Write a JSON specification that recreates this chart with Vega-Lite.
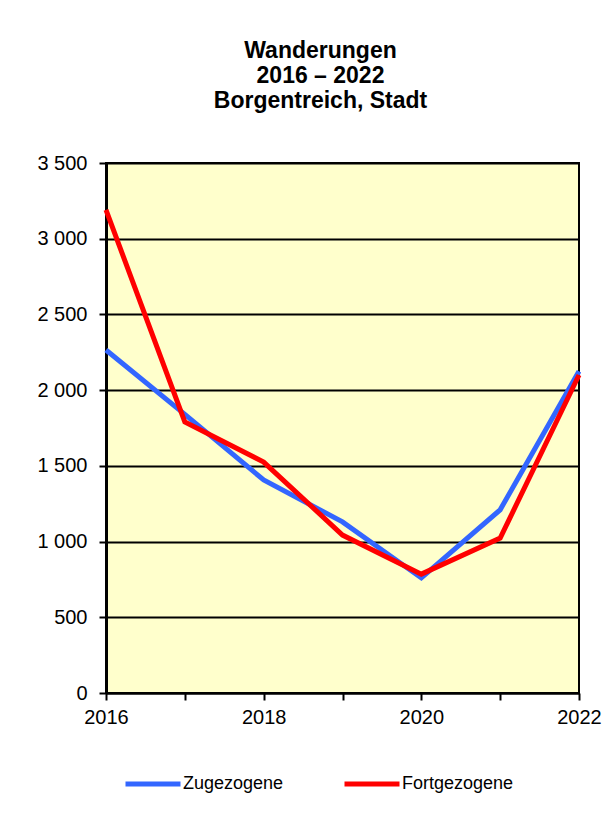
{
  "$schema": "https://vega.github.io/schema/vega-lite/v6.json",
  "width": 473,
  "height": 530,
  "autosize": {"type": "none"},
  "padding": {"left": 106, "top": 163, "right": 33, "bottom": 124},
  "background": "white",
  "title": {
    "text": ["Wanderungen", "2016 – 2022", "Borgentreich, Stadt"],
    "font": "Liberation Sans",
    "fontSize": 23,
    "fontWeight": "bold",
    "lineHeight": 25,
    "anchor": "middle",
    "dx": -22,
    "offset": 40,
    "color": "black"
  },
  "config": {
    "view": {"fill": "#FFFFCC", "stroke": "black", "strokeWidth": 2},
    "font": "Liberation Sans"
  },
  "data": {
    "values": [
      {"year": 2016, "series": "Zugezogene", "value": 2265},
      {"year": 2017, "series": "Zugezogene", "value": 1840},
      {"year": 2018, "series": "Zugezogene", "value": 1407},
      {"year": 2019, "series": "Zugezogene", "value": 1130},
      {"year": 2020, "series": "Zugezogene", "value": 760},
      {"year": 2021, "series": "Zugezogene", "value": 1210},
      {"year": 2022, "series": "Zugezogene", "value": 2125},
      {"year": 2016, "series": "Fortgezogene", "value": 3190},
      {"year": 2017, "series": "Fortgezogene", "value": 1790},
      {"year": 2018, "series": "Fortgezogene", "value": 1525},
      {"year": 2019, "series": "Fortgezogene", "value": 1043},
      {"year": 2020, "series": "Fortgezogene", "value": 785},
      {"year": 2021, "series": "Fortgezogene", "value": 1023},
      {"year": 2022, "series": "Fortgezogene", "value": 2100}
    ]
  },
  "mark": {"type": "line", "strokeWidth": 5, "strokeJoin": "miter"},
  "encoding": {
    "x": {
      "field": "year",
      "type": "quantitative",
      "scale": {"domain": [2016, 2022], "nice": false, "zero": false},
      "axis": {
        "title": null,
        "values": [2016, 2017, 2018, 2019, 2020, 2021, 2022],
        "format": "d",
        "labelExpr": "datum.value % 2 == 0 ? datum.label : ''",
        "grid": false,
        "domainColor": "black",
        "domainWidth": 2,
        "tickColor": "black",
        "tickWidth": 2,
        "tickSize": 7,
        "labelFontSize": 20,
        "labelColor": "black",
        "labelPadding": 7,
        "labelFlush": false
      }
    },
    "y": {
      "field": "value",
      "type": "quantitative",
      "scale": {"domain": [0, 3500], "nice": false},
      "axis": {
        "title": null,
        "values": [0, 500, 1000, 1500, 2000, 2500, 3000, 3500],
        "labelExpr": "replace(format(datum.value, ','), ',', ' ')",
        "grid": true,
        "gridColor": "black",
        "gridWidth": 2,
        "gridOpacity": 1,
        "domainColor": "black",
        "domainWidth": 3,
        "tickColor": "black",
        "tickWidth": 2,
        "tickSize": 7,
        "labelFontSize": 20,
        "labelColor": "black",
        "labelPadding": 12
      }
    },
    "color": {
      "field": "series",
      "type": "nominal",
      "scale": {"domain": ["Zugezogene", "Fortgezogene"], "range": ["#3366FF", "#FF0000"]},
      "legend": {
        "title": null,
        "orient": "none",
        "legendX": 17,
        "legendY": 591,
        "direction": "horizontal",
        "symbolType": "stroke",
        "symbolSize": 3025,
        "symbolStrokeWidth": 5,
        "labelFontSize": 18,
        "labelColor": "black",
        "labelOffset": 0,
        "columnPadding": 50
      }
    }
  }
}
